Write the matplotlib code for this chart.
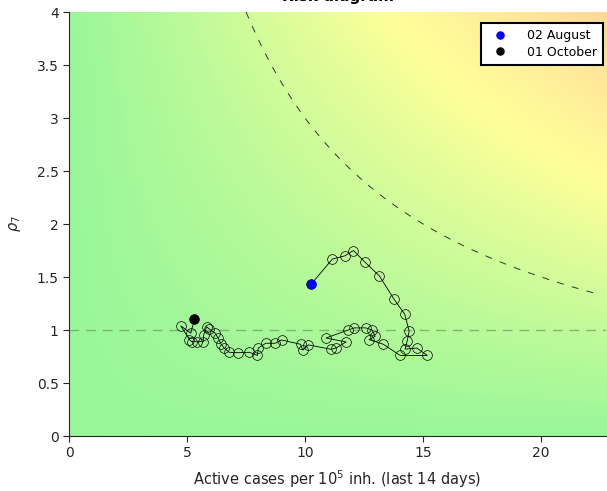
import numpy as np
import matplotlib
matplotlib.use("Agg")
import matplotlib.pyplot as plt
from matplotlib.colors import LinearSegmentedColormap
from matplotlib.ticker import FormatStrFormatter

# trajectory, 02 August -> 01 October
cases = [10.25, 11.16, 11.69, 12.05, 12.54, 13.15, 13.77, 14.22, 14.41, 14.33,
         14.24, 14.73, 15.18, 14.03, 13.32, 12.71, 12.97, 12.84, 12.57, 12.09,
         11.83, 10.89, 11.74, 11.31, 11.10, 10.14, 9.90, 9.81, 9.01, 8.73,
         8.33, 8.02, 7.98, 7.64, 7.17, 6.79, 6.57, 6.43, 6.33, 6.19,
         5.94, 5.83, 5.70, 5.69, 5.41, 5.20, 5.10, 4.73, 5.16, 5.31]
rho7 = [1.43, 1.67, 1.70, 1.75, 1.64, 1.51, 1.29, 1.15, 0.99, 0.90,
        0.82, 0.83, 0.76, 0.76, 0.865, 0.91, 0.94, 1.00, 1.02, 1.02,
        1.00, 0.925, 0.887, 0.83, 0.818, 0.86, 0.81, 0.865, 0.906, 0.875,
        0.875, 0.83, 0.76, 0.79, 0.786, 0.79, 0.83, 0.87, 0.92, 0.97,
        1.01, 1.03, 0.95, 0.89, 0.89, 0.89, 0.91, 1.04, 0.97, 1.10]
start_label = "02 August"
end_label = "01 October"
risk_level = 30  # cases * rho7 threshold curve
xmax, ymax = 22.75, 4

fig = plt.figure(figsize=(6.07, 4.91), dpi=100)
ax = fig.add_axes([0.1137, 0.112, 0.8847, 0.8635])

# background coloured by risk (cases * rho7)
cmap = LinearSegmentedColormap.from_list(
    "risk", [(0, "#99f799"), (0.36, "#ffff99"), (1, "#ff9999")])
gx, gy = np.meshgrid(np.linspace(0, xmax, 300), np.linspace(0, ymax, 300))
ax.imshow(gx * gy, extent=[0, xmax, 0, ymax], origin="lower", aspect="auto",
          cmap=cmap, vmin=0, vmax=150, zorder=0)

plt.rcParams["lines.scale_dashes"] = False
ax.axhline(1, color="#5f8a55", alpha=0.6, lw=1.0, dashes=(7, 5), zorder=1)
cx = np.linspace(risk_level / ymax, 22.3, 200)
ax.plot(cx, risk_level / cx, color="#333333", lw=0.7, dashes=(5, 6), zorder=1)

ax.plot(cases, rho7, color="black", lw=0.6, marker="o", ms=7,
        mfc="none", mec="black", mew=0.5, zorder=2)
ax.plot(cases[0], rho7[0], "o", color="blue", ms=6, zorder=3, label=start_label)
ax.plot(cases[-1], rho7[-1], "o", color="black", ms=6, zorder=3, label=end_label)

ax.set_xlim(0, xmax)
ax.set_ylim(0, ymax)
ax.set_xticks([0, 5, 10, 15, 20])
ax.set_yticks(np.arange(0, 4.01, 0.5))
ax.yaxis.set_major_formatter(FormatStrFormatter("%g"))
ax.tick_params(direction="out", length=4, labelsize=10, colors="#262626")
for s in ["top", "right"]:
    ax.spines[s].set_visible(False)
for s in ["left", "bottom"]:
    ax.spines[s].set_color("#262626")

ax.set_xlabel(r"Active cases per $10^5$ inh. (last 14 days)", fontsize=10.5,
              color="#262626", labelpad=6)
ax.set_ylabel(r"$\rho_7$", fontsize=10.5, color="#262626", labelpad=10)
ax.set_title("Risk diagram", fontsize=11, fontweight="bold", pad=8)

leg = ax.legend(loc="upper right", fontsize=9, frameon=True, fancybox=False,
                borderpad=0.5, labelspacing=0.3, handletextpad=1.2,
                borderaxespad=0, markerscale=0.85,
                bbox_to_anchor=(0.995, 0.975))
leg.get_frame().set_edgecolor("black")
leg.get_frame().set_linewidth(1.5)
leg.get_frame().set_alpha(1)

fig.savefig("out.png", dpi=100)
